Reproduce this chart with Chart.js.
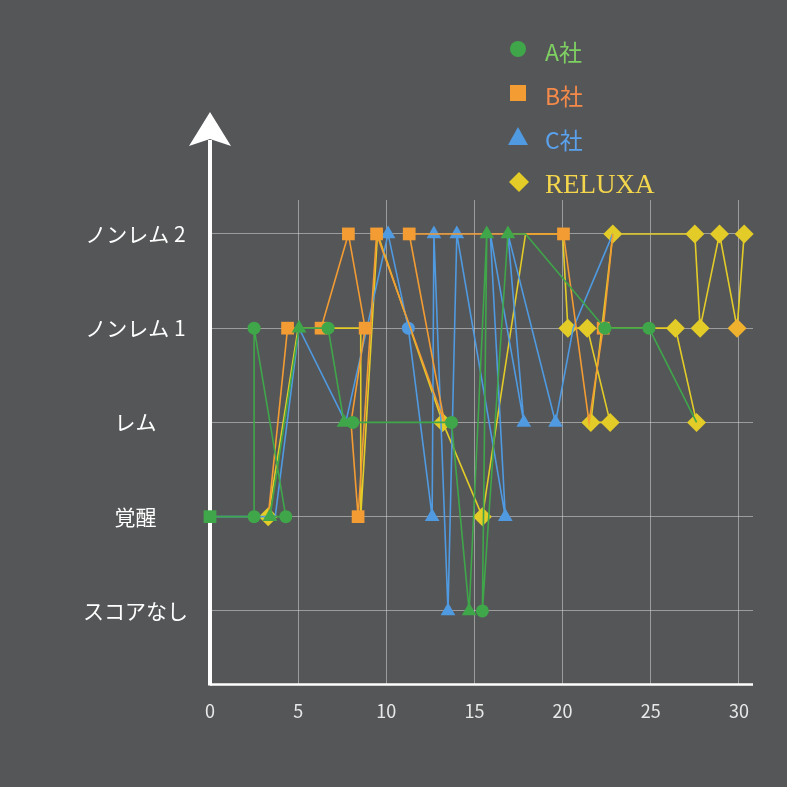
<!DOCTYPE html>
<html lang="ja">
<head>
<meta charset="utf-8">
<title>睡眠ステージ比較</title>
<script src="https://cdn.jsdelivr.net/npm/chart.js@4.4.1/dist/chart.umd.min.js"></script>
<style>
  html, body { margin: 0; padding: 0; background: #555658; }
  #wrap { width: 787px; height: 787px; }
</style>
</head>
<body>
<div id="wrap"><canvas id="sleepChart" width="787" height="787"></canvas></div>
<script>
// stage labels, index = y value
const sleepStages = ["スコアなし", "覚醒", "レム", "ノンレム 1", "ノンレム 2"]
const xTickValues = [0, 5, 10, 15, 20, 25, 30]
const seriesNames = ["A社", "B社", "C社", "RELUXA"]

// A社
const aTime = [0, 2.5, 2.5, 4.3, 3.4, 5.05, 6.7, 7.6, 8.1, 13.7, 14.7, 15.7, 15.45, 16.9, 17.9, 22.4, 24.9, 27.6]
const aStage = [1, 1, 3, 1, 1, 3, 3, 2, 2, 2, 0, 4, 0, 4, 4, 3, 3, 2]

// B社
const bTime = [3.3, 4.4, 6.3, 7.85, 8.8, 8.0, 8.4, 9.45, 13.3, 11.3, 20.05, 21.5, 22.3, 22.85]
const bStage = [1, 3, 3, 4, 3, 2, 1, 4, 2, 4, 4, 2, 3, 4]

// C社
const cTime = [0, 3.7, 5.05, 7.7, 10.1, 11.25, 12.6, 12.7, 13.5, 14.0, 16.75, 15.9, 17.8, 16.9, 19.6, 20.6, 22.85]
const cStage = [1, 1, 3, 2, 4, 3, 1, 4, 0, 4, 1, 4, 2, 4, 2, 3, 4]

// RELUXA (null = break in line)
const dTime = [3.3, 5.0, 8.55, 8.55, 9.5, 13.2, 15.45, 17.9, 20.0, 20.3, 21.4, 22.7, 21.6, 22.85, 27.5, 27.8, 28.9, 29.9, 30.3, 30.3, 22.3, 26.4, 27.6]
const dStage = [1, 3, 3, 1, 4, 2, 1, 4, 4, 3, 3, 2, 2, 4, 4, 3, 4, 3, 4, null, 3, 3, 2]

// marker shape per vertex ("" = plain vertex)
const aMarks = ["rect", "circle", "circle", "circle", "triangle", "triangle", "circle", "triangle", "circle", "circle", "triangle", "triangle", "circle", "triangle", "", "circle", "circle", ""]
const bMarks = ["", "rect", "rect", "rect", "rect", "", "rect", "rect", "", "rect", "rect", "", "rect", ""]
const cMarks = ["", "", "", "", "triangle", "circle", "triangle", "triangle", "triangle", "triangle", "triangle", "", "triangle", "", "triangle", "", ""]
const dMarks = ["rectRot", "", "", "", "", "rectRot", "rectRot", "", "", "rectRot", "rectRot", "rectRot", "rectRot", "rectRot", "rectRot", "rectRot", "rectRot", "rectRot", "rectRot", "", "", "rectRot", "rectRot"]

const markerSize = { circle: 6.5, rect: 9, triangle: 8.5, rectRot: 9.5 }
const colors = ["#3fa64a", "#f29c33", "#4f9ae0", "#e3cc28"]
const legendTextColors = ["#7fd063", "#f48a4a", "#5aa2ee", "#f4d64c"]

function toPoints(xs, ys) {
  return xs.map((x, i) => ({ x, y: ys[i] }))
}

function makeDataset(label, xs, ys, marks, color, fills) {
  return {
    label,
    data: toPoints(xs, ys),
    borderColor: color,
    borderWidth: 1.6,
    pointStyle: marks.map(m => m || "circle"),
    pointRadius: marks.map(m => (m ? markerSize[m] : 0)),
    pointHoverRadius: marks.map(m => (m ? markerSize[m] : 0)),
    pointBackgroundColor: fills || color,
    pointBorderWidth: 0,
    tension: 0,
    spanGaps: false,
    clip: false
  }
}

const reluxaFills = dMarks.map((_, i) => (i === 17 ? "#f0b22e" : colors[3]))

// axes are drawn under the datasets so edge markers sit on top
const axisArrow = {
  id: "axisArrow",
  beforeDatasetsDraw(chart) {
    const { ctx, chartArea } = chart
    const x0 = chartArea.left
    const yb = chartArea.bottom
    ctx.save()
    ctx.strokeStyle = "#ffffff"
    ctx.fillStyle = "#ffffff"
    ctx.lineWidth = 2.5
    ctx.beginPath()
    ctx.moveTo(x0, yb)
    ctx.lineTo(chartArea.right, yb)
    ctx.stroke()
    ctx.lineWidth = 4
    ctx.beginPath()
    ctx.moveTo(x0, yb + 1)
    ctx.lineTo(x0, 140)
    ctx.stroke()
    ctx.beginPath()
    ctx.moveTo(x0, 112)
    ctx.lineTo(x0 + 21, 146)
    ctx.lineTo(x0, 139)
    ctx.lineTo(x0 - 21, 146)
    ctx.closePath()
    ctx.fill()
    ctx.restore()
  }
}

const sideLegend = {
  id: "sideLegend",
  afterDraw(chart) {
    const { ctx } = chart
    const rows = [49, 93, 137, 183]
    const mx = 518
    ctx.save()
    seriesNames.forEach((name, i) => {
      const y = rows[i]
      ctx.fillStyle = colors[i]
      ctx.beginPath()
      if (i === 0) {
        ctx.arc(mx, y, 8, 0, Math.PI * 2)
      } else if (i === 1) {
        ctx.rect(mx - 8, y - 8, 16, 16)
      } else if (i === 2) {
        ctx.moveTo(mx, y - 10)
        ctx.lineTo(mx + 10, y + 8)
        ctx.lineTo(mx - 10, y + 8)
        ctx.closePath()
      } else {
        ctx.moveTo(mx + 1, y - 11)
        ctx.lineTo(mx + 11, y - 1)
        ctx.lineTo(mx + 1, y + 9)
        ctx.lineTo(mx - 9, y - 1)
        ctx.closePath()
      }
      ctx.fill()
      ctx.fillStyle = legendTextColors[i]
      ctx.textBaseline = "middle"
      ctx.textAlign = "left"
      ctx.font = i === 3
        ? "27px 'Liberation Serif', 'DejaVu Serif', serif"
        : "23px 'Noto Sans CJK JP', 'Noto Sans', sans-serif"
      ctx.fillText(name, 545, y + 3)
    })
    ctx.restore()
  }
}

const chart = new Chart(document.getElementById("sleepChart"), {
  type: "line",
  data: {
    datasets: [
      makeDataset(seriesNames[0], aTime, aStage, aMarks, colors[0]),
      makeDataset(seriesNames[1], bTime, bStage, bMarks, colors[1]),
      makeDataset(seriesNames[2], cTime, cStage, cMarks, colors[2]),
      makeDataset(seriesNames[3], dTime, dStage, dMarks, colors[3], reluxaFills)
    ]
  },
  options: {
    responsive: false,
    animation: false,
    layout: {
      padding: { left: 61, top: 200, right: 34, bottom: 49 }
    },
    plugins: {
      legend: { display: false },
      tooltip: { enabled: false }
    },
    scales: {
      x: {
        type: "linear",
        min: 0,
        max: 30.8,
        afterBuildTicks: scale => {
          scale.ticks = xTickValues.map(value => ({ value }))
        },
        grid: {
          color: "rgba(215, 215, 215, 0.55)",
          lineWidth: 1,
          drawTicks: false
        },
        border: { display: false },
        ticks: {
          color: "#e8e8e8",
          padding: 16,
          font: { family: "'Noto Sans CJK JP', 'Noto Sans', sans-serif", size: 18 }
        }
      },
      y: {
        type: "linear",
        min: -0.78,
        max: 4.36,
        afterBuildTicks: scale => {
          scale.ticks = sleepStages.map((_, value) => ({ value }))
        },
        grid: {
          color: "rgba(215, 215, 215, 0.55)",
          lineWidth: 1,
          drawTicks: false
        },
        border: { display: false },
        ticks: {
          color: "#ffffff",
          padding: 22,
          crossAlign: "center",
          callback: value => sleepStages[value],
          font: { family: "'Noto Sans CJK JP', 'Noto Sans', sans-serif", size: 21 }
        }
      }
    }
  },
  plugins: [axisArrow, sideLegend]
})
</script>
</body>
</html>
